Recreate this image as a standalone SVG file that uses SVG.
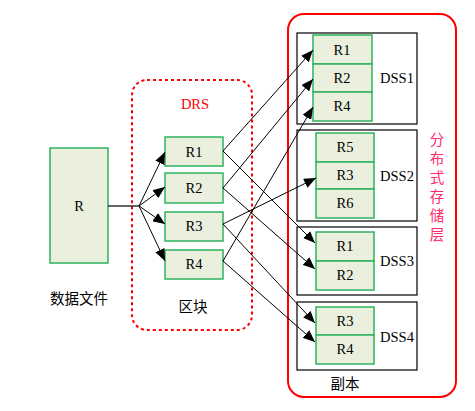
<svg xmlns="http://www.w3.org/2000/svg" width="475" height="411" viewBox="0 0 475 411">
<style>
.blk{fill:#ebf0de;stroke:#2db35e;stroke-width:1.5}
.dss{fill:#fff;stroke:#000;stroke-width:1.2}
.t{font-family:"Liberation Serif",serif;font-size:14.5px;fill:#000;text-anchor:middle;dominant-baseline:central}
.c{font-family:"Noto Sans CJK SC",sans-serif;font-size:14.5px;fill:#000;text-anchor:middle;dominant-baseline:central}
.ln{stroke:#000;stroke-width:1;fill:none;marker-end:url(#ah)}
</style>
<defs>
<marker id="ah" markerWidth="12" markerHeight="10" refX="12" refY="5" orient="auto" markerUnits="userSpaceOnUse">
<path d="M0,0 L12,5 L0,10 Z" fill="#000"/>
</marker>
</defs>
<rect width="475" height="411" fill="#fff"/>
<g id="drs">
<rect x="132" y="80" width="120" height="250" rx="15" fill="none" stroke="#ff0000" stroke-width="2" stroke-dasharray="3,3"/>
<text x="195" y="104" class="t" style="fill:#ff0000">DRS</text>
<text x="193" y="305" class="c">区块</text>
</g>
<g id="storage">
<rect x="288" y="14" width="168" height="383" rx="16" fill="none" stroke="#ff0000" stroke-width="2"/>
<g class="c" style="fill:#ff2a6a">
<text x="437" y="138">分</text>
<text x="437" y="157">布</text>
<text x="437" y="176">式</text>
<text x="437" y="195">存</text>
<text x="437" y="214">储</text>
<text x="437" y="233">层</text>
</g>
<text x="345" y="382" class="c">副本</text>
</g>
<g id="R">
<rect x="50" y="148" width="58" height="115" class="blk"/>
<text x="79" y="206" class="t">R</text>
<text x="79" y="297" class="c">数据文件</text>
</g>
<g id="R1"><rect x="165" y="137" width="58" height="29" class="blk"/><text x="194" y="152" class="t">R1</text></g>
<g id="R2"><rect x="165" y="173" width="58" height="30" class="blk"/><text x="194" y="188" class="t">R2</text></g>
<g id="R3"><rect x="165" y="212" width="58" height="29" class="blk"/><text x="194" y="226" class="t">R3</text></g>
<g id="R4"><rect x="165" y="250" width="58" height="29" class="blk"/><text x="194" y="264" class="t">R4</text></g>
<g id="DSS1">
<rect x="297" y="33" width="120" height="91" class="dss"/>
<rect x="313" y="35" width="59" height="29" class="blk"/>
<rect x="313" y="64" width="59" height="28" class="blk"/>
<rect x="313" y="92" width="59" height="29" class="blk"/>
<text x="342" y="50" class="t">R1</text>
<text x="342" y="78" class="t">R2</text>
<text x="342" y="106" class="t">R4</text>
<text x="397" y="78" class="t">DSS1</text>
</g>
<g id="DSS2">
<rect x="297" y="130" width="120" height="91" class="dss"/>
<rect x="316" y="133" width="58" height="29" class="blk"/>
<rect x="316" y="162" width="58" height="27" class="blk"/>
<rect x="316" y="189" width="58" height="29" class="blk"/>
<text x="345" y="147" class="t">R5</text>
<text x="345" y="175" class="t">R3</text>
<text x="345" y="203" class="t">R6</text>
<text x="397" y="176" class="t">DSS2</text>
</g>
<g id="DSS3">
<rect x="297" y="227" width="120" height="68" class="dss"/>
<rect x="316" y="232" width="58" height="29" class="blk"/>
<rect x="316" y="261" width="58" height="29" class="blk"/>
<text x="345" y="246" class="t">R1</text>
<text x="345" y="275" class="t">R2</text>
<text x="397" y="261" class="t">DSS3</text>
</g>
<g id="DSS4">
<rect x="297" y="302" width="120" height="68" class="dss"/>
<rect x="316" y="307" width="58" height="28" class="blk"/>
<rect x="316" y="335" width="58" height="29" class="blk"/>
<text x="345" y="321" class="t">R3</text>
<text x="345" y="349" class="t">R4</text>
<text x="397" y="337" class="t">DSS4</text>
</g>
<g id="connectors">
<line x1="108" y1="206" x2="139" y2="206" stroke="#000" stroke-width="1.2"/>
<line x1="139" y1="206" x2="165" y2="152" class="ln"/>
<line x1="139" y1="206" x2="165" y2="187" class="ln"/>
<line x1="139" y1="206" x2="165" y2="224" class="ln"/>
<line x1="139" y1="206" x2="165" y2="261" class="ln"/>
<line x1="223" y1="151" x2="313" y2="50" class="ln"/>
<line x1="223" y1="188" x2="313" y2="79" class="ln"/>
<line x1="223" y1="261" x2="313" y2="107" class="ln"/>
<line x1="223" y1="224" x2="316" y2="178" class="ln"/>
<line x1="223" y1="151" x2="315" y2="243" class="ln"/>
<line x1="223" y1="188" x2="315" y2="269" class="ln"/>
<line x1="223" y1="224" x2="315" y2="323" class="ln"/>
<line x1="223" y1="261" x2="315" y2="342" class="ln"/>
</g>
</svg>
